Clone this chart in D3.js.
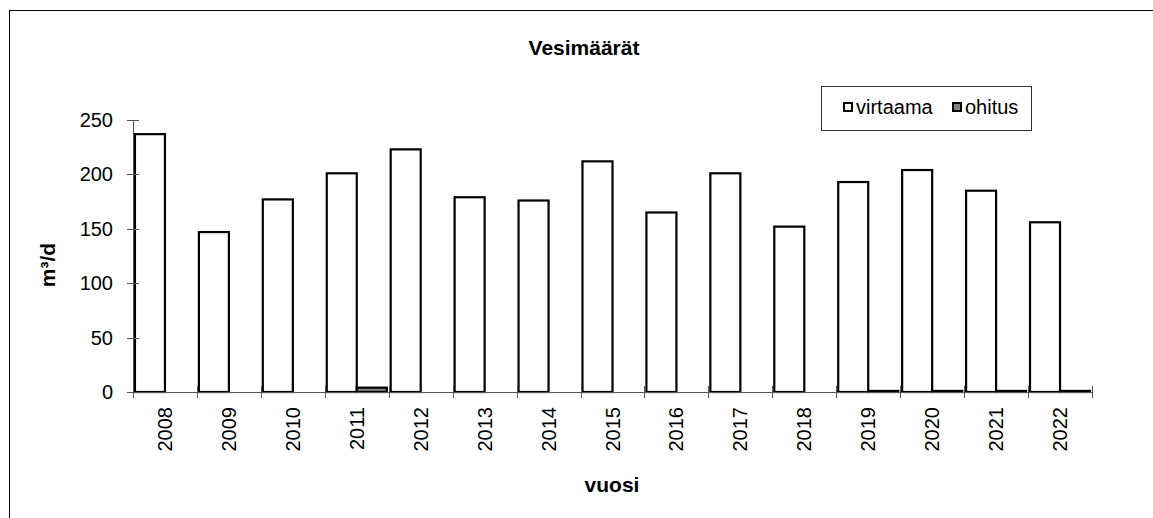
<!DOCTYPE html>
<html>
  <head>
    <meta charset="utf-8">
    <title>Vesimäärät</title>
    <style>
      body {
        margin: 0;
        background-color: white;
      }

      svg text {
        font-family: "Liberation Sans", Arial, sans-serif;
        fill: black;
      }

      .axis text {
        font-size: 20px;
      }

      .axis path,
      .axis line {
        fill: none;
        stroke: #555;
        stroke-width: 1px;
        shape-rendering: crispEdges;
      }

      .label {
        font-size: 21px;
        font-weight: bold;
      }

      .legend text {
        font-size: 20px;
      }
    </style>
  </head>
  <body>
  <svg class="graph"></svg>
  <script src="https://d3js.org/d3.v7.min.js"></script>
  <script>

  // data
  var years = ["2008", "2009", "2010", "2011", "2012", "2013", "2014", "2015",
               "2016", "2017", "2018", "2019", "2020", "2021", "2022"];
  var virtaama = [237, 147, 177, 201, 223, 179, 176, 212, 165, 201, 152, 193, 204, 185, 156];
  var ohitus = [0, 0, 0, 4, 0, 0, 0, 0, 0, 0, 0, 1, 1, 1, 1];
  var seriesNames = ["virtaama", "ohitus"];
  var seriesColors = ["#ffffff", "#808080"];
  var yTicks = [0, 50, 100, 150, 200, 250];

  var width = 1153, height = 518;
  var plot = {left: 133, right: 1092, top: 120, bottom: 392};

  var graph = d3.select("svg")
    .attr("width", width)
    .attr("height", height);

  // outer chart frame (runs past the window edge like the original)
  graph.append("rect")
    .attr("x", 9.5)
    .attr("y", 10.5)
    .attr("width", width + 20)
    .attr("height", height + 20)
    .attr("fill", "white")
    .attr("stroke", "black")
    .attr("stroke-width", 1);

  var x = d3.scaleBand()
    .domain(years)
    .range([plot.left, plot.right]);

  var x1 = d3.scaleBand()
    .domain(seriesNames)
    .range([0, x.bandwidth()])
    .paddingOuter(0.065);

  var y = d3.scaleLinear()
    .domain([0, 250])
    .range([plot.bottom, plot.top]);

  // bars
  var rows = years.map(function(yr, i) {
    return {year: yr, values: [virtaama[i], ohitus[i]]};
  });

  var group = graph.selectAll("g.year")
    .data(rows)
    .enter().append("g")
    .attr("class", "year")
    .attr("transform", function(d) { return "translate(" + x(d.year) + ",0)"; });

  group.selectAll("rect")
    .data(function(d) {
      return d.values.map(function(v, k) { return {key: seriesNames[k], value: v, k: k}; })
        .filter(function(e) { return e.value > 0; });
    })
    .enter().append("rect")
    .attr("x", function(d) { return x1(d.key); })
    .attr("y", function(d) { return y(d.value); })
    .attr("width", x1.bandwidth())
    .attr("height", function(d) { return y(0) - y(d.value); })
    .attr("fill", function(d) { return seriesColors[d.k]; })
    .attr("stroke", "black")
    .attr("stroke-width", 2.2);

  // axes
  var yAxis = d3.axisLeft(y)
    .tickValues(yTicks)
    .tickSizeInner(6)
    .tickSizeOuter(0)
    .tickPadding(14);

  var yg = graph.append("g")
    .attr("class", "y axis")
    .attr("transform", "translate(" + plot.left + ",0)")
    .call(yAxis);
  yg.selectAll(".tick line").attr("x2", 6).attr("x1", -6);

  var xAxis = d3.axisBottom(x)
    .tickSize(0)
    .tickPadding(0);

  var xg = graph.append("g")
    .attr("class", "x axis")
    .attr("transform", "translate(0," + plot.bottom + ")")
    .call(xAxis);

  xg.selectAll(".tick text")
    .attr("transform", "rotate(-90)")
    .attr("x", -15)
    .attr("y", 0)
    .attr("dy", "0.35em")
    .style("text-anchor", "end");

  // cross ticks at the band edges
  xg.selectAll("line.edge")
    .data(years.concat(["end"]))
    .enter().append("line")
    .attr("class", "edge")
    .attr("x1", function(d, i) { return Math.round(plot.left + i * x.step()) + 0.5; })
    .attr("x2", function(d, i) { return Math.round(plot.left + i * x.step()) + 0.5; })
    .attr("y1", -6)
    .attr("y2", 6);

  // titles
  graph.append("text")
    .attr("class", "label")
    .attr("x", 584)
    .attr("y", 55)
    .style("text-anchor", "middle")
    .text("Vesimäärät");

  graph.append("text")
    .attr("class", "label")
    .attr("transform", "translate(55,265) rotate(-90)")
    .style("text-anchor", "middle")
    .text("m³/d");

  graph.append("text")
    .attr("class", "label")
    .attr("x", 612)
    .attr("y", 492)
    .style("text-anchor", "middle")
    .text("vuosi");

  // legend
  var legend = graph.append("g").attr("class", "legend");

  legend.append("rect")
    .attr("x", 821.5)
    .attr("y", 86.5)
    .attr("width", 210)
    .attr("height", 44)
    .attr("fill", "white")
    .attr("stroke", "#333")
    .attr("stroke-width", 1);

  var legendX = [844, 953];
  var item = legend.selectAll("g.item")
    .data(seriesNames)
    .enter().append("g")
    .attr("class", "item")
    .attr("transform", function(d, i) { return "translate(" + legendX[i] + ",0)"; });

  item.append("rect")
    .attr("x", 0)
    .attr("y", 103)
    .attr("width", 8)
    .attr("height", 8)
    .attr("fill", function(d, i) { return seriesColors[i]; })
    .attr("stroke", "black")
    .attr("stroke-width", 2);

  item.append("text")
    .attr("x", 12)
    .attr("y", 114)
    .text(function(d) { return d; });

  </script>
  </body>
</html>
